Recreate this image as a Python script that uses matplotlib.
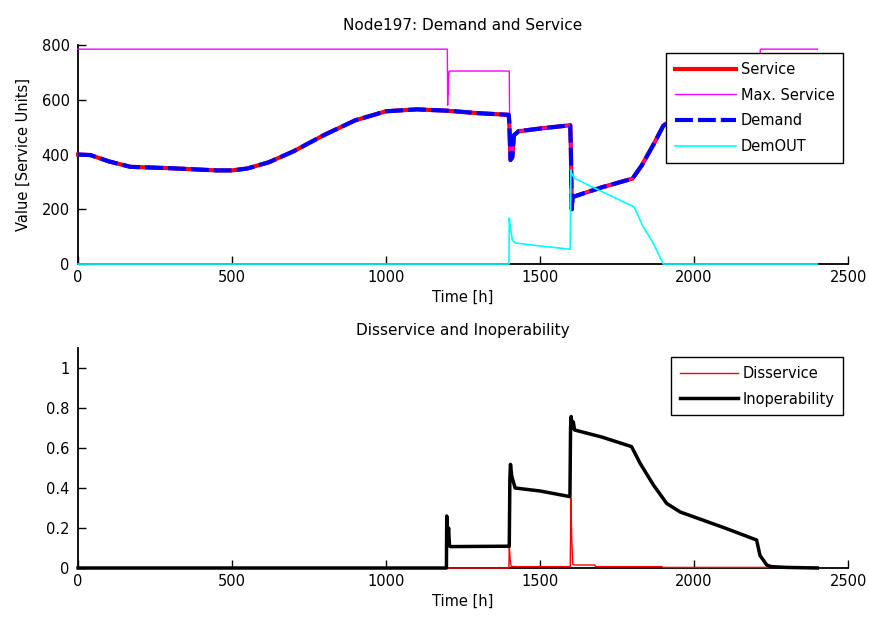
import numpy as np
import matplotlib
matplotlib.use("Agg")
from matplotlib import pyplot as plt
from matplotlib.ticker import FormatStrFormatter

plt.rcParams['font.family'] = ['DejaVu Sans']
plt.rcParams['font.size'] = 10.5

# --- top panel data ---
t_dem = [0, 40, 100, 170, 300, 450, 500, 550, 620, 700, 800, 900, 1000, 1100, 1200, 1300, 1398,
         1400, 1404, 1410, 1415, 1430, 1500, 1598, 1600, 1603, 1606, 1700, 1800, 1830, 1870, 1900,
         1950, 2000, 2100, 2200, 2300, 2400]
demand = [400, 398, 375, 355, 350, 342, 342, 349, 372, 412, 472, 525, 558, 565, 560, 551, 545,
          520, 380, 390, 470, 485, 495, 507, 420, 200, 245, 280, 312, 360, 440, 505,
          545, 565, 580, 585, 585, 585]
service = list(demand)

t_max = [0, 1199, 1200, 1201, 1202, 1203, 1205, 1400, 1401, 1404, 1410, 1415, 1430, 1500, 1598,
         1600, 1603, 1606, 1700, 1800, 1830, 1870, 1900, 1950, 2000, 2100, 2210, 2215, 2400]
max_service = [785, 785, 580, 700, 620, 680, 705, 705, 545, 380, 390, 470, 485, 495, 507,
               420, 200, 245, 280, 312, 360, 440, 505, 545, 565, 580, 585, 785, 785]

t_out = [0, 1399, 1400, 1403, 1410, 1420, 1500, 1598, 1600, 1603, 1612, 1700, 1805, 1835, 1867, 1900, 2400]
dem_out = [0, 0, 168, 140, 87, 77, 66, 54, 343, 330, 313, 265, 209, 136, 77, 0, 0]

# --- bottom panel data ---
t_dis = [0, 1399, 1400, 1403, 1406, 1420, 1500, 1598, 1600, 1603, 1606, 1610, 1678, 1680, 1895, 1900, 2400]
disservice = [0, 0, 0.12, 0.04, 0.008, 0.007, 0.007, 0.007, 0.35, 0.14, 0.02, 0.015, 0.015, 0.007, 0.007, 0.003, 0.003]

t_inop = [0, 1196, 1197, 1200, 1203, 1206, 1210, 1300, 1400, 1402, 1404, 1408, 1419, 1500, 1597,
          1599, 1601, 1604, 1608, 1612, 1700, 1797, 1825, 1868, 1911, 1955, 2100, 2203, 2214, 2236, 2250, 2300, 2400]
inoperability = [0, 0, 0.26, 0.14, 0.2, 0.11, 0.107, 0.108, 0.109, 0.45, 0.518, 0.46, 0.40, 0.385, 0.357,
                 0.70, 0.757, 0.70, 0.73, 0.69, 0.655, 0.607, 0.523, 0.415, 0.323, 0.28, 0.2, 0.14, 0.063, 0.015, 0.007, 0.003, 0]

x_ticks = [0, 500, 1000, 1500, 2000, 2500]

fig = plt.figure(figsize=(8.7, 6.17), dpi=100)
ax1 = fig.add_axes([0.0897, 0.5721, 0.8851, 0.3549])
ax2 = fig.add_axes([0.0897, 0.0794, 0.8851, 0.3566])

ax1.plot(t_dem, service, color='#ff0000', linewidth=3.0, label='Service', clip_on=False, zorder=3)
ax1.plot(t_max, max_service, color='#ff00ff', linewidth=1.0, label='Max. Service', clip_on=False, zorder=3)
ax1.plot(t_dem, demand, color='#0000ff', linewidth=3.0, dashes=(4.3, 1.2), label='Demand', clip_on=False, zorder=3)
ax1.plot(t_out, dem_out, color='#00ffff', linewidth=1.2, label='DemOUT', clip_on=False, zorder=3)

ax2.plot(t_dis, disservice, color='#ff0000', linewidth=1.0, label='Disservice', clip_on=False, zorder=3)
ax2.plot(t_inop, inoperability, color='black', linewidth=2.5, label='Inoperability', clip_on=False, zorder=3)

ax1.set_xlim(0, 2500)
ax1.set_ylim(0, 800)
ax1.set_yticks([0, 200, 400, 600, 800])
ax2.set_xlim(0, 2500)
ax2.set_ylim(0, 1.1)
ax2.set_yticks([0, 0.2, 0.4, 0.6, 0.8, 1])
ax2.yaxis.set_major_formatter(FormatStrFormatter('%g'))

for ax in (ax1, ax2):
    ax.set_xticks(x_ticks)
    ax.spines['top'].set_visible(False)
    ax.spines['right'].set_visible(False)
    ax.spines['left'].set_linewidth(1.3)
    ax.spines['bottom'].set_linewidth(1.3)
    ax.tick_params(direction='in', length=5.5, width=1.0, labelsize=10.5)
    ax.tick_params(axis='y', pad=6)
    ax.tick_params(axis='x', pad=4)
    ax.set_xlabel('Time [h]', fontsize=10.5, labelpad=4)

ax1.set_title('Node197: Demand and Service', fontsize=11, pad=11)
ax1.set_ylabel('Value [Service Units]', fontsize=10.5, labelpad=8)
ax2.set_title('Disservice and Inoperability', fontsize=11, pad=9)

leg1 = ax1.legend(loc='upper right', bbox_to_anchor=(0.9935, 0.9635), borderaxespad=0,
                  fancybox=False, framealpha=1, edgecolor='black', handlelength=4.2,
                  handletextpad=0.3, labelspacing=0.74, borderpad=0.6, fontsize=10.5)
leg1.get_frame().set_linewidth(1.0)
leg2 = ax2.legend(loc='upper right', bbox_to_anchor=(0.9935, 0.959), borderaxespad=0,
                  fancybox=False, framealpha=1, edgecolor='black', handlelength=4.0,
                  handletextpad=0.3, labelspacing=0.74, borderpad=0.6, fontsize=10.5)
leg2.get_frame().set_linewidth(1.0)

fig.savefig('out.png', dpi=100)
